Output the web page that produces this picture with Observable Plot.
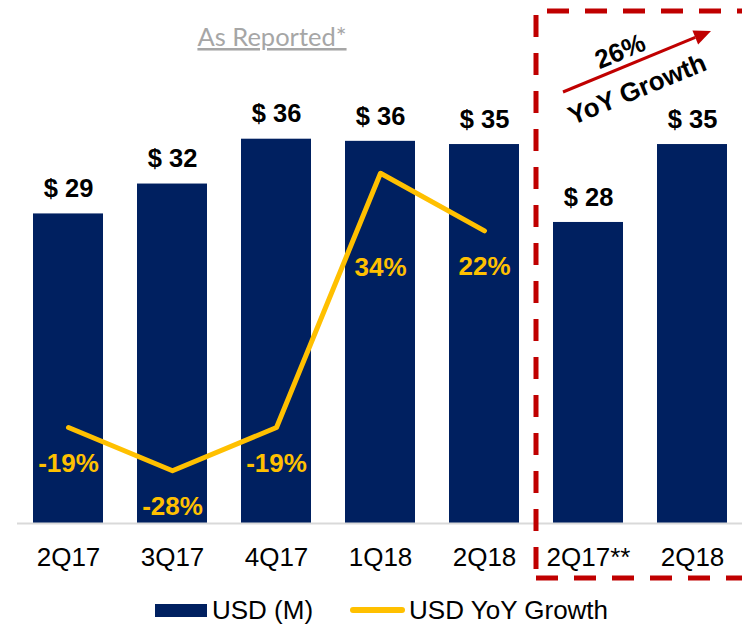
<!DOCTYPE html>
<html><head><meta charset="utf-8">
<script src="https://cdn.jsdelivr.net/npm/d3@7"></script>
<script src="https://cdn.jsdelivr.net/npm/@observablehq/plot@0.6"></script>
<style>
html,body{margin:0;background:#fff;font-family:"Liberation Sans",Arial,sans-serif;overflow:hidden;}
#chart{width:742px;height:585px;}
#legend{display:flex;align-items:center;height:50px;line-height:26px;padding-left:155px;font-size:26px;color:#000;}
.sw{display:inline-block;width:52px;height:13px;background:#002060;margin-right:5px;}
.ln{display:inline-block;width:55px;height:6px;border-radius:3px;background:#FFC000;margin-left:37px;margin-right:4px;}
</style></head>
<body>
<div id="chart"></div>
<div id="legend"><span class="sw"></span><span>USD (M)</span><span class="ln"></span><span>USD YoY Growth</span></div>
<script>
const categories = ["2Q17","3Q17","4Q17","1Q18","2Q18","2Q17**","2Q18"];
const usd = [29.0, 31.8, 36.0, 35.8, 35.5, 28.2, 35.5];
const usdLabels = ["$ 29","$ 32","$ 36","$ 36","$ 35","$ 28","$ 35"];
const growth = [-19, -28, -19, 34, 22];
const growthLabels = ["-19%","-28%","-19%","34%","22%"];
const title = "As Reported*";
const boxLabelTop = "26%";
const boxLabelBottom = "YoY Growth";

const keys = categories.map((c, i) => i);
const bars = keys.map(i => ({i, usd: usd[i], label: usdLabels[i]}));
const lineData = growth.map((g, i) => ({i, growth: g, label: growthLabels[i]}));
const g2y = d3.scaleLinear([-39, 50], [0, 40]);

function decorations(index, scales, values, dims) {
  const x = scales.x;
  const bw = x.bandwidth();
  const G = d3.create("svg:g");
  const left = (x(4) + bw + x(5)) / 2;
  const top = dims.marginTop - 85;
  const bottom = dims.height - 7;
  const right = dims.width + 30;
  const dash = {stroke: "#C00000", "stroke-width": 5, fill: "none", "stroke-dasharray": "22 16"};
  const paths = [`M${left + 11},${top}H${right}`, `M${left},${top + 4}V${bottom}`, `M${left},${bottom}H${right}`];
  for (const d of paths) {
    const p = G.append("path").attr("d", d);
    for (const [k, v] of Object.entries(dash)) p.attr(k, v);
  }
  // arrow
  const x0 = x(5) + 10, y0 = top + 81, x1 = x(6) + bw - 16, y1 = top + 20;
  const ang = Math.atan2(y1 - y0, x1 - x0);
  const hl = 17, hw = 7.5;
  const bx = x1 - hl * Math.cos(ang), by = y1 - hl * Math.sin(ang);
  G.append("line").attr("x1", x0).attr("y1", y0).attr("x2", bx).attr("y2", by)
    .attr("stroke", "#C00000").attr("stroke-width", 3);
  G.append("path").attr("d", `M${x1},${y1}L${bx - hw * Math.sin(ang)},${by + hw * Math.cos(ang)}L${bx + hw * Math.sin(ang)},${by - hw * Math.cos(ang)}Z`)
    .attr("fill", "#C00000");
  const deg = ang * 180 / Math.PI;
  const t1 = G.append("text").attr("transform", `translate(${x(5) + 67},${top + 40}) rotate(${deg})`).text(boxLabelTop);
  const t2 = G.append("text").attr("transform", `translate(${x(5) + 84},${top + 78}) rotate(${deg})`).text(boxLabelBottom);
  for (const t of [t1, t2]) t.attr("text-anchor", "middle").attr("dominant-baseline", "central")
    .attr("font-size", 26).attr("font-weight", "bold").attr("fill", "#000")
    .attr("font-family", "Liberation Sans, Arial, sans-serif");
  // title
  G.append("text").attr("x", (x(0) + x(4) + bw) / 2 - 4).attr("y", top + 35)
    .attr("text-anchor", "middle").attr("font-family", "Lato, sans-serif").attr("font-size", 25.5)
    .attr("fill", "#a6a6a6").attr("text-decoration", "underline").text(title);
  return G.node();
}

const plot = Plot.plot({
  width: 742, height: 585,
  marginLeft: 17, marginRight: 0, marginTop: 96, marginBottom: 62,
  style: {fontFamily: "Liberation Sans, Arial, sans-serif", background: "white"},
  x: {domain: keys, paddingInner: 0.33, paddingOuter: 0.15, axis: null},
  y: {domain: [0, 40], axis: null},
  marks: [
    Plot.barY(bars, {x: "i", y: "usd", fill: "#002060"}),
    Plot.ruleY([0], {stroke: "#d9d9d9", strokeWidth: 2}),
    Plot.axisX({tickSize: 0, tickPadding: 24, fontSize: 26, tickFormat: i => categories[i], label: null}),
    Plot.line(lineData, {x: "i", y: d => g2y(d.growth), stroke: "#FFC000", strokeWidth: 5, strokeLinejoin: "round", strokeLinecap: "round"}),
    Plot.text(bars, {x: "i", y: "usd", text: "label", dy: -25, fontSize: 25.5, fontWeight: "bold", fill: "#000"}),
    Plot.text(lineData.filter(d => d.i !== 3), {x: "i", y: d => g2y(d.growth), text: "label", dy: 36, fontSize: 26, fontWeight: "bold", fill: "#FFC000"}),
    Plot.text(lineData.filter(d => d.i === 3), {x: "i", y: d => g2y(d.growth), text: "label", dy: 94, fontSize: 26, fontWeight: "bold", fill: "#FFC000"}),
    decorations
  ]
});
document.getElementById("chart").appendChild(plot);
</script>
</body></html>
